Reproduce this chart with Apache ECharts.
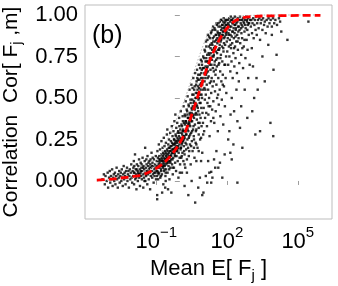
<!DOCTYPE html>
<html><head><meta charset="utf-8">
<script src="https://cdn.jsdelivr.net/npm/echarts@6/dist/echarts.min.js"></script>
<style>html,body{margin:0;padding:0;background:#fff}#c{width:338px;height:286px}</style>
</head><body><div id="c"></div>
<script>
// x values are log10(Mean E[F_j]); y values are correlations
const xTickExps = [-1, 2, 5];
const yTickVals = [0, 0.25, 0.5, 0.75, 1];
const panelLabel = '(b)';

const tailPts = [[-3.28,0.01],[-3.22,0.04],[-3.18,-0.02],[-3.15,0.03],[-3.1,0.00],[-3.06,0.05],[-3.04,-0.04],[-3.0,0.02],[-2.97,0.06],[-2.95,-0.01],[-2.92,0.03],[-2.9,0.01],[-2.87,0.07],[-2.85,-0.03],[-2.82,0.02],[-2.8,0.04],[-2.78,0.00],[-2.75,0.05],[-2.73,-0.02],[-2.7,0.03],[-2.68,0.08],[-2.66,0.01],[-2.63,-0.04],[-2.61,0.04],[-2.59,0.02],[-2.57,0.06],[-2.55,-0.01],[-2.52,0.03],[-2.5,0.05],[-2.48,0.00],[-2.46,0.07],[-2.44,0.02],[-2.42,-0.03],[-2.4,0.04],[-2.38,0.09],[-2.36,0.01],[-2.34,0.05],[-2.32,0.03],[-2.3,-0.02],[-2.28,0.06],[-2.26,0.02],[-2.24,0.08],[-2.22,0.00],[-2.2,0.04],[-2.18,0.06],[-2.16,-0.04],[-2.14,0.03],[-2.12,0.07],[-2.1,0.01],[-2.08,0.05],[-2.06,0.10],[-2.04,0.02],[-2.02,-0.01],[-2.0,0.06],
[-1.98,0.03],[-1.97,0.08],[-1.95,0.12],[-1.94,-0.02],[-1.92,0.05],[-1.9,0.16],[-1.89,0.01],[-1.87,0.07],[-1.86,0.04],[-1.84,-0.05],[-1.82,0.10],[-1.81,0.03],[-1.79,0.06],[-1.78,0.00],[-1.76,0.09],[-1.75,0.04],[-1.73,0.13],[-1.72,0.02],[-1.7,0.07],[-1.69,-0.03],[-1.67,0.05],[-1.66,0.11],[-1.64,0.03],[-1.63,0.08],[-1.61,0.01],[-1.6,0.06],[-1.58,0.14],[-1.57,0.04],[-1.55,-0.04],[-1.54,0.09],[-1.52,0.02],[-1.51,0.07],[-1.49,0.12],[-1.48,0.05],[-1.47,0.20],[-1.46,0.00],[-1.44,0.08],[-1.43,0.03],[-1.41,0.10],[-1.4,0.06],[-1.38,-0.02],[-1.37,0.15],[-1.35,0.04],[-1.34,0.09],[-1.32,0.01],[-1.31,0.07],[-1.29,0.12],[-1.28,0.05],[-1.26,-0.05],[-1.25,0.10],[-1.23,0.03],[-1.22,0.08],[-1.2,0.17],[-1.19,0.06],[-1.17,0.02],[-1.16,0.11],[-1.14,0.04],[-1.13,0.09],[-1.11,-0.01],[-1.1,0.13],[-1.08,0.07],[-1.07,0.03],[-1.05,0.10],[-1.04,0.05],[-1.02,0.15],[-1.01,0.01],
[-1.95,0.05],[-1.85,0.02],[-1.77,0.05],[-1.65,0.06],[-1.56,0.08],[-1.45,0.04],[-1.36,0.06],[-1.27,0.08],[-1.18,0.09],[-1.09,0.05],[-1.03,0.08],[-1.5,0.00],[-1.62,0.10],[-1.71,0.04],[-1.83,0.07],[-1.93,0.09],[-1.15,0.14],[-1.24,0.13],[-1.33,0.11],[-1.42,0.13]];

const risePts = [[-0.96,-0.085],[-0.96,-0.11],[-0.75,-0.07],[-0.62,-0.04],[-0.36,-0.07],[-0.5,-0.05],
[-0.99,0.06],[-0.98,0.12],[-0.97,0.03],[-0.95,0.18],[-0.94,0.08],[-0.93,0.14],[-0.92,0.01],[-0.9,0.10],[-0.89,0.22],[-0.88,0.05],[-0.87,0.15],[-0.85,0.09],[-0.84,0.19],[-0.83,0.02],[-0.82,0.12],[-0.8,0.07],[-0.79,0.16],[-0.78,0.24],[-0.77,0.10],[-0.76,0.04],[-0.74,0.13],[-0.73,0.20],[-0.72,0.08],[-0.71,0.17],[-0.7,-0.02],[-0.69,0.11],[-0.68,0.26],[-0.67,0.06],[-0.66,0.14],[-0.65,0.21],[-0.64,0.09],[-0.63,0.18],[-0.61,0.03],[-0.6,0.13],[-0.59,0.23],[-0.58,0.07],[-0.57,0.16],[-0.56,0.11],[-0.55,0.28],[-0.54,0.19],[-0.53,0.31],[-0.52,0.05],[-0.51,0.14],[-0.49,0.22],[-0.48,0.09],[-0.47,0.17],[-0.46,0.25],[-0.45,0.12],[-0.44,0.01],[-0.43,0.20],[-0.42,0.15],[-0.41,0.29],[-0.4,0.08],[-0.39,0.18],[-0.38,0.24],[-0.37,0.13],[-0.35,0.21],[-0.34,0.33],[-0.33,0.10],[-0.32,0.17],[-0.31,0.27],[-0.3,0.04],[-0.29,0.22],[-0.28,0.14],[-0.27,0.30],[-0.26,0.19],[-0.25,0.08],[-0.24,0.25],[-0.23,0.36],[-0.22,0.16],[-0.21,0.23],[-0.2,0.11],[-0.19,0.40],[-0.18,0.28],[-0.17,0.20],[-0.16,0.06],[-0.15,0.32],[-0.14,0.15],[-0.13,0.24],[-0.12,0.18],[-0.11,0.35],[-0.1,0.26],[-0.09,0.12],[-0.08,0.21],[-0.07,0.30],[-0.06,0.02],[-0.05,0.17],[-0.04,0.27],[-0.03,0.38],[-0.02,0.22],[-0.01,0.14],
[-0.95,0.06],[-0.9,0.04],[-0.86,0.11],[-0.81,0.09],[-0.75,0.12],[-0.7,0.09],[-0.66,0.10],[-0.62,0.12],[-0.58,0.15],[-0.54,0.12],[-0.5,0.16],[-0.46,0.14],[-0.42,0.18],[-0.38,0.15],[-0.34,0.19],[-0.3,0.17],[-0.26,0.22],[-0.22,0.20],[-0.18,0.24],[-0.14,0.21],[-0.1,0.19],[-0.06,0.25],[-0.02,0.29],[-0.8,0.03],[-0.6,0.05],[-0.4,0.11],[-0.2,0.15],[-0.88,0.13],[-0.72,0.15],[-0.45,0.07],
[0.36,-0.085],[0.65,-0.13],[0.78,-0.04],[0.95,-0.085],[0.2,-0.03],[0.5,0.0],[0.85,0.02],
[0.01,0.10],[0.02,0.31],[0.03,0.19],[0.04,0.42],[0.05,0.25],[0.06,0.14],[0.07,0.34],[0.08,0.22],[0.09,0.05],[0.1,0.28],[0.11,0.17],[0.12,0.39],[0.13,0.24],[0.14,0.31],[0.15,0.12],[0.16,0.45],[0.17,0.21],[0.18,0.35],[0.19,0.27],[0.2,0.16],[0.21,0.40],[0.22,0.30],[0.23,0.08],[0.24,0.23],[0.25,0.48],[0.26,0.36],[0.27,0.19],[0.28,0.28],[0.29,0.43],[0.3,0.13],[0.31,0.33],[0.32,0.25],[0.33,0.51],[0.34,0.38],[0.35,0.20],[0.36,0.30],[0.37,0.46],[0.38,0.15],[0.39,0.35],[0.4,0.27],[0.41,0.55],[0.42,0.41],[0.43,0.22],[0.44,0.33],[0.45,0.49],[0.46,0.10],[0.47,0.37],[0.48,0.29],[0.49,0.58],[0.5,0.44],[0.51,0.24],[0.52,0.36],[0.53,0.52],[0.54,0.18],[0.55,0.40],[0.56,0.31],[0.57,0.62],[0.58,0.47],[0.59,0.27],[0.6,0.38],[0.61,0.55],[0.62,0.14],[0.63,0.43],[0.64,0.34],[0.65,0.65],[0.66,0.50],[0.67,0.23],[0.68,0.41],[0.69,0.58],[0.7,0.31],[0.71,0.46],[0.72,0.37],[0.73,0.67],[0.74,0.53],[0.75,0.20],[0.76,0.44],[0.77,0.61],[0.78,0.35],[0.79,0.49],[0.8,0.28],[0.81,0.70],[0.82,0.56],[0.83,0.40],[0.84,0.47],[0.85,0.64],[0.86,0.25],[0.87,0.52],[0.88,0.38],[0.89,0.73],[0.9,0.59],[0.91,0.44],[0.92,0.33],[0.93,0.67],[0.94,0.50],[0.95,0.17],[0.96,0.41],[0.97,0.62],[0.98,0.55],[0.99,0.75],
[0.05,0.20],[0.1,0.23],[0.15,0.27],[0.2,0.26],[0.25,0.30],[0.3,0.32],[0.35,0.34],[0.4,0.36],[0.45,0.38],[0.5,0.41],[0.55,0.45],[0.6,0.48],[0.65,0.45],[0.7,0.50],[0.75,0.55],[0.8,0.52],[0.85,0.58],[0.9,0.62],[0.95,0.58],[0.08,0.15],[0.18,0.18],[0.28,0.22],[0.38,0.26],[0.48,0.21],[0.58,0.33],[0.68,0.30],[0.78,0.42],[0.88,0.47],[0.98,0.35],[0.12,0.30],[0.32,0.40],[0.52,0.30],[0.72,0.40],[0.92,0.52],[0.44,0.28],[0.64,0.40],[0.84,0.35],[0.24,0.36],[0.54,0.56],[0.74,0.62],[0.94,0.70],[0.6,0.2],[0.8,0.18],[0.9,0.12],[0.7,0.12],[0.99,0.28]];

const upperPts = [[1.0,-0.07],[1.16,-0.01],[1.33,-0.01],[1.33,0.055],[1.38,0.02],[1.5,0.08],[1.63,0.08],[1.8,0.02],[1.7,0.11],[1.25,0.05],[1.45,0.13],[1.9,0.16],[1.1,0.03],[1.55,0.18],[1.2,0.12],
[1.01,0.44],[1.02,0.68],[1.03,0.30],[1.04,0.56],[1.05,0.79],[1.06,0.49],[1.07,0.38],[1.08,0.62],[1.09,0.72],[1.1,0.52],[1.11,0.84],[1.12,0.41],[1.13,0.65],[1.14,0.58],[1.15,0.33],[1.16,0.76],[1.17,0.47],[1.18,0.69],[1.19,0.88],[1.2,0.55],[1.21,0.40],[1.22,0.63],[1.23,0.81],[1.24,0.50],[1.25,0.71],[1.26,0.27],[1.27,0.59],[1.28,0.86],[1.29,0.45],[1.3,0.67],[1.31,0.77],[1.32,0.36],[1.33,0.53],[1.34,0.90],[1.35,0.62],[1.36,0.73],[1.37,0.43],[1.38,0.82],[1.39,0.57],[1.4,0.68],[1.41,0.93],[1.42,0.48],[1.43,0.75],[1.44,0.60],[1.45,0.87],[1.46,0.35],[1.47,0.70],[1.48,0.80],[1.49,0.54],[1.5,0.91],[1.51,0.64],[1.52,0.42],[1.53,0.78],[1.54,0.85],[1.55,0.58],[1.56,0.95],[1.57,0.69],[1.58,0.50],[1.59,0.83],[1.6,0.74],[1.61,0.30],[1.62,0.89],[1.63,0.62],[1.64,0.93],[1.65,0.46],[1.66,0.79],[1.67,0.71],[1.68,0.87],[1.69,0.55],[1.7,0.96],[1.71,0.66],[1.72,0.39],[1.73,0.84],[1.74,0.76],[1.75,0.91],[1.76,0.60],[1.77,0.97],[1.78,0.49],[1.79,0.81],[1.8,0.72],[1.81,0.94],[1.82,0.64],[1.83,0.88],[1.84,0.34],[1.85,0.78],[1.86,0.98],[1.87,0.57],[1.88,0.86],[1.89,0.70],[1.9,0.93],[1.91,0.45],[1.92,0.82],[1.93,0.96],[1.94,0.62],[1.95,0.89],[1.96,0.75],[1.97,0.53],[1.98,0.97],[1.99,0.84],
[1.05,0.60],[1.1,0.64],[1.15,0.68],[1.2,0.72],[1.25,0.76],[1.3,0.80],[1.35,0.83],[1.4,0.86],[1.45,0.80],[1.5,0.84],[1.55,0.88],[1.6,0.90],[1.65,0.85],[1.7,0.89],[1.75,0.85],[1.8,0.92],[1.85,0.90],[1.9,0.87],[1.95,0.94],[1.08,0.55],[1.18,0.62],[1.28,0.70],[1.38,0.75],[1.48,0.72],[1.58,0.77],[1.68,0.80],[1.78,0.88],[1.88,0.92],[1.98,0.90],[1.12,0.74],[1.32,0.60],[1.52,0.67],[1.72,0.74],[1.92,0.70],[1.22,0.45],[1.42,0.38],[1.62,0.52],[1.82,0.58],[1.44,0.66],[1.64,0.70],[1.84,0.80]];

const plateauPts = [[2.44,-0.01],[2.2,0.13],[2.14,0.17],[2.27,0.22],[2.65,0.2],[2.44,0.36],[2.55,0.32],[2.86,0.38],[2.1,0.30],[2.3,0.42],[2.05,0.25],[2.6,0.45],[2.2,0.5],[2.75,0.55],[2.4,0.55],[2.9,0.62],[2.15,0.40],[2.5,0.60],
[2.01,0.78],[2.02,0.92],[2.03,0.86],[2.04,0.97],[2.05,0.70],[2.06,0.89],[2.07,0.94],[2.08,0.81],[2.09,0.98],[2.1,0.75],[2.11,0.91],[2.12,0.85],[2.13,0.96],[2.14,0.66],[2.15,0.88],[2.16,0.99],[2.17,0.80],[2.18,0.93],[2.19,0.72],[2.2,0.87],[2.21,0.97],[2.22,0.83],[2.23,0.95],[2.24,0.62],[2.25,0.90],[2.26,0.98],[2.27,0.77],[2.28,0.92],[2.29,0.86],[2.3,0.96],[2.31,0.69],[2.32,0.89],[2.33,0.99],[2.34,0.81],[2.35,0.94],[2.36,0.74],[2.37,0.91],[2.38,0.97],[2.39,0.84],[2.4,0.95],[2.42,0.65],[2.43,0.88],[2.45,0.98],[2.46,0.79],[2.47,0.93],[2.49,0.86],[2.5,0.97],[2.52,0.71],[2.53,0.91],[2.55,0.99],[2.56,0.83],[2.58,0.95],[2.6,0.76],[2.61,0.89],[2.63,0.97],[2.64,0.86],[2.66,0.93],[2.68,0.68],[2.69,0.98],[2.71,0.81],[2.72,0.95],[2.74,0.90],[2.76,0.97],[2.78,0.74],[2.79,0.92],[2.81,0.99],[2.83,0.85],[2.85,0.96],[2.87,0.79],[2.88,0.94],[2.9,0.98],[2.92,0.88],[2.94,0.95],[2.96,0.70],[2.98,0.97],
[2.05,0.95],[2.12,0.93],[2.18,0.97],[2.25,0.95],[2.32,0.94],[2.38,0.92],[2.44,0.96],[2.5,0.93],[2.57,0.97],[2.62,0.94],[2.7,0.96],[2.77,0.94],[2.84,0.97],[2.91,0.95],[2.08,0.88],[2.22,0.90],[2.36,0.87],[2.48,0.90],[2.6,0.92],[2.74,0.85],[2.86,0.91],[2.15,0.82],[2.3,0.80],[2.45,0.84],[2.65,0.80],
[3.07,0.42],[3.2,0.28],[3.4,0.30],[3.84,0.35],[3.96,0.27],[3.1,0.69],[3.97,0.67],[4.1,0.76],[4.56,0.85],[5.45,0.96],[3.3,0.55],[3.6,0.60],[3.05,0.80],[3.5,0.75],[3.25,0.62],[3.75,0.82],[3.15,0.5],[4.3,0.9],[3.9,0.88],
[3.01,0.93],[3.03,0.97],[3.06,0.89],[3.08,0.95],[3.11,0.98],[3.13,0.86],[3.16,0.94],[3.18,0.97],[3.21,0.91],[3.23,0.99],[3.26,0.88],[3.28,0.95],[3.31,0.97],[3.34,0.92],[3.37,0.98],[3.4,0.85],[3.43,0.95],[3.46,0.97],[3.5,0.91],[3.53,0.98],[3.57,0.94],[3.6,0.96],[3.64,0.89],[3.68,0.97],[3.72,0.93],[3.76,0.98],[3.8,0.95],[3.85,0.97],[3.9,0.93],[3.95,0.98],[4.0,0.95],[4.05,0.97],[4.12,0.94],[4.2,0.98],[4.25,0.96]];

const corePts = [[-0.98,0.09],[-0.93,0.05],[-0.91,0.12],[-0.87,0.08],[-0.83,0.13],[-0.79,0.06],[-0.77,0.14],[-0.74,0.09],[-0.71,0.12],[-0.68,0.16],[-0.65,0.07],[-0.63,0.13],[-0.6,0.17],[-0.57,0.10],[-0.55,0.14],[-0.52,0.18],[-0.49,0.11],[-0.47,0.20],[-0.44,0.15],[-0.41,0.12],[-0.39,0.21],[-0.36,0.16],[-0.33,0.23],[-0.31,0.13],[-0.28,0.19],[-0.25,0.25],[-0.23,0.17],[-0.2,0.22],[-0.17,0.27],[-0.15,0.18],[-0.12,0.23],[-0.09,0.29],[-0.07,0.20],[-0.04,0.24],[-0.02,0.33],
[0.02,0.26],[0.04,0.20],[0.07,0.29],[0.09,0.33],[0.11,0.24],[0.13,0.36],[0.16,0.30],[0.18,0.25],[0.21,0.34],[0.23,0.39],[0.26,0.28],[0.28,0.35],[0.31,0.42],[0.33,0.31],[0.36,0.38],[0.38,0.45],[0.41,0.34],[0.43,0.40],[0.46,0.47],[0.48,0.36],[0.51,0.43],[0.53,0.49],[0.56,0.39],[0.58,0.52],[0.61,0.44],[0.63,0.57],[0.66,0.47],[0.68,0.53],[0.71,0.60],[0.73,0.45],[0.76,0.57],[0.78,0.64],[0.81,0.50],[0.83,0.61],[0.86,0.68],[0.88,0.55],[0.91,0.65],[0.93,0.72],[0.96,0.60],[0.98,0.68],
[1.02,0.74],[1.04,0.65],[1.07,0.78],[1.09,0.69],[1.12,0.81],[1.14,0.72],[1.17,0.85],[1.19,0.66],[1.22,0.77],[1.24,0.87],[1.27,0.74],[1.29,0.82],[1.32,0.89],[1.34,0.70],[1.37,0.79],[1.39,0.91],[1.42,0.84],[1.44,0.76],[1.47,0.92],[1.49,0.81],[1.52,0.88],[1.54,0.73],[1.57,0.94],[1.59,0.86],[1.62,0.79],[1.64,0.95],[1.67,0.88],[1.69,0.82],[1.72,0.93],[1.74,0.97],[1.77,0.86],[1.79,0.94],[1.82,0.90],[1.84,0.96],[1.87,0.83],[1.89,0.95],[1.92,0.91],[1.94,0.97],[1.97,0.88],[1.99,0.94],
[-0.6,0.0],[-0.3,0.08],[0.0,0.05],[0.2,0.1],[0.4,0.18],[0.6,0.25],[0.8,0.32],[0.3,0.05],[0.7,0.22],[0.9,0.26]];

const redFit = [[-3.52,0.005],[-3.0,0.01],[-2.5,0.018],[-2.0,0.027],[-1.6,0.037],[-1.2,0.06],[-0.8,0.095],[-0.4,0.15],[0.0,0.23],[0.3,0.32],[0.6,0.44],[0.9,0.57],[1.2,0.70],[1.5,0.80],[1.8,0.88],[2.2,0.95],[2.6,0.98],[3.0,0.99],[4.0,0.995],[5.96,0.998]];
const greyFit = [[-3.52,0.0],[-2.5,0.01],[-2.0,0.02],[-1.5,0.05],[-1.0,0.11],[-0.75,0.18],[-0.28,0.33],[0.1,0.45],[0.65,0.68],[1.0,0.82],[1.29,0.91],[1.7,0.965],[2.27,0.988],[2.8,0.996],[4.0,1.0],[5.96,1.0]];

const FONT = 'Liberation Sans';
const chart = echarts.init(document.getElementById('c'), null, {renderer: 'canvas'});
chart.setOption({
  animation: false,
  backgroundColor: '#ffffff',
  grid: {left: 85, right: 6, top: 5, bottom: 67, show: true, borderColor: '#bdbdbd', borderWidth: 1, backgroundColor: '#ffffff', containLabel: false, outerBoundsMode: 'none'},
  xAxis: {
    type: 'value', min: -4.02, max: 6.45,
    axisLine: {show: false},
    splitLine: {show: false},
    axisTick: {show: true, length: 4, customValues: xTickExps, lineStyle: {color: '#9e9e9e'}},
    axisLabel: {
      customValues: xTickExps, margin: 6,
      formatter: v => '{b|10}{s|' + (v < 0 ? '\u2212' + (-v) : v) + '}',
      rich: {
        b: {fontFamily: FONT, fontSize: 22, color: '#000', lineHeight: 28, verticalAlign: 'bottom'},
        s: {fontFamily: FONT, fontSize: 15, color: '#000', lineHeight: 15, verticalAlign: 'top'}
      }
    },
    name: '{t|Mean E[ F}{u|j}{t| ]}',
    nameLocation: 'middle', nameGap: 27,
    nameTextStyle: {
      verticalAlign: 'top',
      rich: {
        t: {fontFamily: FONT, fontSize: 22, color: '#000', lineHeight: 26, verticalAlign: 'top'},
        u: {fontFamily: FONT, fontSize: 15, color: '#000', lineHeight: 26, verticalAlign: 'top', padding: [10, 0, 0, 0]}
      }
    }
  },
  yAxis: {
    type: 'value', min: -0.229, max: 1.06,
    axisLine: {show: false},
    splitLine: {show: false},
    axisTick: {show: true, length: 5, customValues: yTickVals, lineStyle: {color: '#9e9e9e'}},
    axisLabel: {customValues: yTickVals, margin: 7, fontFamily: FONT, fontSize: 22, color: '#000', formatter: v => v.toFixed(2)},
    name: '{t|Correlation  Cor[ F}{u|j}{t| ,m]}',
    nameLocation: 'middle', nameGap: 50, nameRotate: 90,
    nameTextStyle: {
      rich: {
        t: {fontFamily: FONT, fontSize: 21, color: '#000', lineHeight: 25, verticalAlign: 'top'},
        u: {fontFamily: FONT, fontSize: 14, color: '#000', lineHeight: 25, verticalAlign: 'top', padding: [10, 0, 0, 0]}
      }
    }
  },
  graphic: [{type: 'text', left: 92, top: 24, style: {text: panelLabel, fontFamily: FONT, fontSize: 25, fill: '#000'}}],
  series: [
    {type: 'scatter', data: tailPts.concat(risePts, upperPts, plateauPts, corePts), symbol: 'rect', symbolSize: 2.4, itemStyle: {color: '#000'}, silent: true},
    {type: 'line', data: greyFit, smooth: 0.4, symbol: 'none', lineStyle: {color: '#b4b4b4', width: 1, type: [1.5, 2]}, silent: true},
    {type: 'line', data: redFit, smooth: 0.4, symbol: 'none', lineStyle: {color: '#ff0000', width: 2.8, type: [8, 4]}, silent: true}
  ]
});
</script></body></html>
